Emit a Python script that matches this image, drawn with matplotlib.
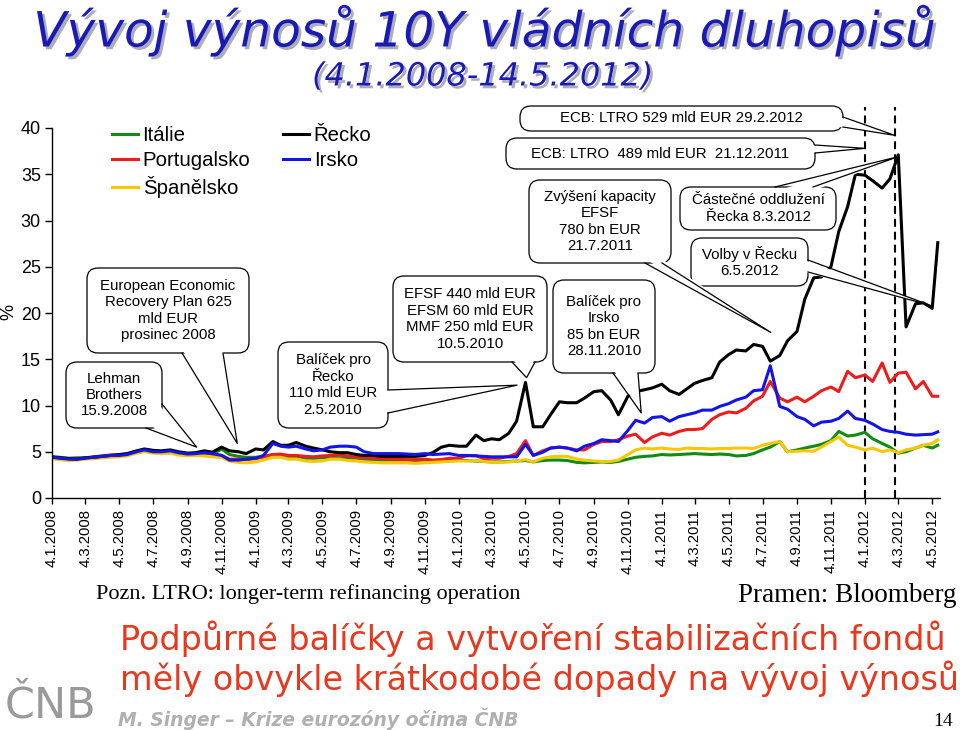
import numpy as np
import pandas as pd
import matplotlib
matplotlib.use('Agg')
import matplotlib.pyplot as plt
import matplotlib.dates as mdates
import matplotlib.patheffects as pe
from matplotlib.patches import FancyBboxPatch, Polygon
from matplotlib.lines import Line2D
from matplotlib.transforms import Affine2D

plt.rcParams['font.family'] = ['Liberation Sans', 'DejaVu Sans']

W, H = 960, 730

# observation dates: 4th and 18th of each month, last value 14.5.2012
dates = [pd.Timestamp(y, m, d) for y in range(2008, 2013) for m in range(1, 13) for d in (4, 18)]
dates = [d for d in dates if d <= pd.Timestamp(2012, 4, 18)] + [pd.Timestamp(2012, 5, 4), pd.Timestamp(2012, 5, 14)]

# 10Y government bond yields, %
italie = [4.5, 4.4, 4.3, 4.35, 4.35, 4.45, 4.55, 4.6, 4.6, 4.7,
          5.0, 5.2, 5.0, 4.95, 5.05, 4.85, 4.75, 4.8, 4.8, 4.7,
          5.3, 4.7, 4.5, 4.4, 4.4, 4.5, 4.7, 4.6, 4.5, 4.5,
          4.3, 4.3, 4.35, 4.4, 4.35, 4.3, 4.3, 4.2, 4.15, 4.1,
          4.1, 4.1, 4.1, 4.05, 4.1, 4.05, 4.1, 4.1, 4.1, 4.05,
          4.0, 3.95, 3.9, 3.9, 3.95, 4.0, 4.05, 3.9, 4.05, 4.1,
          4.1, 4.05, 3.85, 3.8, 3.85, 3.9, 3.85, 3.95, 4.2, 4.4,
          4.5, 4.55, 4.7, 4.65, 4.7, 4.75, 4.8, 4.75, 4.7, 4.75,
          4.7, 4.55, 4.6, 4.8, 5.2, 5.5, 6.1, 5.0, 5.2, 5.4,
          5.6, 5.8, 6.2, 7.2, 6.7, 6.8, 7.1, 6.4, 5.9, 5.5,
          4.85, 5.0, 5.4, 5.7, 5.4, 5.7]
portugalsko = [4.35, 4.3, 4.2, 4.25, 4.3, 4.4, 4.55, 4.65, 4.65, 4.75,
               5.05, 5.2, 5.05, 5.0, 5.1, 4.9, 4.75, 4.8, 4.85, 4.75,
               4.6, 4.2, 4.2, 4.15, 4.25, 4.4, 4.7, 4.75, 4.6, 4.6,
               4.5, 4.45, 4.55, 4.6, 4.65, 4.55, 4.4, 4.35, 4.3, 4.25,
               4.2, 4.2, 4.15, 4.15, 4.2, 4.1, 4.15, 4.3, 4.3, 4.55,
               4.6, 4.25, 4.3, 4.3, 4.5, 4.8, 6.2, 4.6, 5.1, 5.4,
               5.5, 5.4, 5.2, 5.2, 5.8, 6.1, 6.1, 6.3, 6.7, 6.9,
               6.0, 6.6, 7.0, 6.8, 7.2, 7.4, 7.4, 7.5, 8.5, 9.0,
               9.3, 9.2, 9.7, 10.5, 11.0, 12.6, 10.8, 10.4, 10.9, 10.4,
               11.0, 11.6, 12.0, 11.5, 13.7, 13.0, 13.3, 12.6, 14.6, 12.5,
               13.5, 13.6, 11.8, 12.6, 11.0, 11.0]
spanelsko = [4.25, 4.15, 4.05, 4.1, 4.2, 4.25, 4.35, 4.4, 4.45, 4.55,
             4.85, 5.0, 4.85, 4.8, 4.85, 4.65, 4.55, 4.6, 4.55, 4.45,
             4.4, 4.0, 3.85, 3.8, 3.9, 4.1, 4.4, 4.4, 4.2, 4.2,
             4.0, 3.95, 4.0, 4.2, 4.2, 4.05, 4.0, 3.9, 3.85, 3.8,
             3.8, 3.8, 3.8, 3.75, 3.8, 3.85, 3.9, 3.95, 4.0, 4.0,
             4.05, 3.95, 3.85, 3.85, 3.9, 4.0, 4.15, 3.9, 4.3, 4.45,
             4.5, 4.5, 4.2, 4.1, 4.0, 3.95, 3.95, 4.1, 4.7, 5.2,
             5.4, 5.3, 5.4, 5.3, 5.25, 5.4, 5.35, 5.35, 5.3, 5.35,
             5.35, 5.4, 5.4, 5.35, 5.7, 5.9, 6.1, 5.0, 5.05, 5.1,
             5.05, 5.5, 6.1, 6.6, 5.7, 5.5, 5.2, 5.4, 5.0, 5.2,
             4.9, 5.2, 5.4, 5.7, 5.9, 6.3]
recko = [4.4, 4.35, 4.25, 4.2, 4.35, 4.4, 4.5, 4.6, 4.7, 4.8,
         5.1, 5.3, 5.15, 5.1, 5.2, 5.0, 4.85, 4.9, 5.1, 4.95,
         5.5, 5.1, 5.0, 4.8, 5.3, 5.2, 6.1, 5.7, 5.7, 6.0,
         5.6, 5.4, 5.2, 5.0, 4.9, 4.9, 4.7, 4.6, 4.6, 4.5,
         4.5, 4.5, 4.5, 4.5, 4.6, 4.9, 5.5, 5.7, 5.6, 5.6,
         6.8, 6.2, 6.4, 6.3, 7.0, 8.3, 12.5, 7.7, 7.7, 9.0,
         10.4, 10.3, 10.3, 10.8, 11.5, 11.6, 10.6, 9.0, 11.0, 11.5,
         11.7, 11.9, 12.3, 11.6, 11.2, 11.8, 12.4, 12.7, 13.0, 14.7,
         15.5, 16.0, 15.9, 16.6, 16.4, 14.8, 15.4, 17.0, 18.0, 21.5,
         23.8, 23.9, 25.0, 28.8, 31.5, 35.0, 34.9, 34.3, 33.5, 34.5,
         37.1, 18.5, 21.0, 21.1, 20.5, 27.6]
irsko = [4.4, 4.3, 4.2, 4.2, 4.3, 4.4, 4.5, 4.6, 4.6, 4.7,
         5.0, 5.2, 5.0, 5.0, 5.1, 4.9, 4.75, 4.8, 4.9, 4.8,
         4.6, 4.1, 4.1, 4.2, 4.3, 4.6, 5.9, 5.6, 5.5, 5.6,
         5.3, 5.1, 5.2, 5.5, 5.6, 5.6, 5.5, 5.0, 4.8, 4.8,
         4.8, 4.8, 4.75, 4.7, 4.8, 4.7, 4.75, 4.8, 4.6, 4.6,
         4.55, 4.5, 4.45, 4.45, 4.45, 4.45, 5.8, 4.6, 4.95, 5.4,
         5.5, 5.4, 5.1, 5.6, 5.9, 6.3, 6.2, 6.1, 7.3, 8.4,
         8.1, 8.7, 8.8, 8.3, 8.8, 9.0, 9.2, 9.5, 9.5, 9.9,
         10.2, 10.6, 10.9, 11.6, 11.7, 14.3, 9.9, 9.6, 8.8, 8.5,
         7.8, 8.2, 8.3, 8.6, 9.4, 8.6, 8.4, 8.0, 7.4, 7.2,
         7.1, 6.9, 6.8, 6.85, 6.9, 7.15]

series = [('Itálie', italie, '#138a13'),
          ('Portugalsko', portugalsko, '#ee1c1c'),
          ('Španělsko', spanelsko, '#f5c800'),
          ('Řecko', recko, '#000000'),
          ('Irsko', irsko, '#1414e6')]

tick_labels = ['4.1.2008', '4.3.2008', '4.5.2008', '4.7.2008', '4.9.2008', '4.11.2008',
               '4.1.2009', '4.3.2009', '4.5.2009', '4.7.2009', '4.9.2009', '4.11.2009',
               '4.1.2010', '4.3.2010', '4.5.2010', '4.7.2010', '4.9.2010', '4.11.2010',
               '4.1.2011', '4.3.2011', '4.5.2011', '4.7.2011', '4.9.2011', '4.11.2011',
               '4.1.2012', '4.3.2012', '4.5.2012']
ltro_dates = ['2012-01-04', '2012-02-27']

# callouts: text, box (px), tail base (px), tail tip (date, value)
callouts = [
    ('Lehman\nBrothers\n15.9.2008', (66, 362, 162, 428), [(162, 404), (146, 428)], ('2008-09-20', 5.5)),
    ('European Economic\nRecovery Plan 625\nmld EUR\nprosinec 2008', (87, 268, 249, 353),
     [(182, 353), (223, 353)], ('2008-12-02', 5.9)),
    ('Balíček pro\nŘecko\n110 mld EUR\n2.5.2010', (278, 342, 388, 428), [(388, 390), (388, 413)], ('2010-04-19', 12.2)),
    ('EFSF 440 mld EUR\nEFSM 60 mld EUR\nMMF 250 mld EUR\n10.5.2010', (393, 276, 547, 362),
     [(512, 362), (535, 362)], ('2010-05-06', 13.0)),
    ('Balíček pro\nIrsko\n85 bn EUR\n28.11.2010', (553, 280, 655, 373), [(613, 373), (638, 373)], ('2010-11-28', 9.2)),
    ('Zvýšení kapacity\nEFSF\n780 bn EUR\n21.7.2011', (529, 180, 671, 263), [(645, 263), (662, 263)], ('2011-07-19', 17.9)),
    ('Částečné oddlužení\nŘecka 8.3.2012', (680, 187, 836, 230), [(775, 187), (813, 187)], ('2012-03-04', 36.9)),
    ('Volby v Řecku\n6.5.2012', (691, 238, 808, 286), [(808, 260), (808, 272)], ('2012-05-02', 20.8)),
    ('ECB: LTRO 529 mld EUR 29.2.2012', (520, 106, 843, 131), [(843, 117), (843, 127)], ('2012-02-27', 39.2)),
    ('ECB: LTRO  489 mld EUR  21.12.2011', (506, 138, 815, 169), [(815, 145), (815, 153)], ('2012-01-04', 37.8)),
]

fig = plt.figure(figsize=(W / 100, H / 100), dpi=100)
fig.patch.set_facecolor('white')
# pixel coordinates, origin top-left
tpx = Affine2D().scale(1 / W, -1 / H).translate(0, 1) + fig.transFigure

ax = fig.add_axes([52 / W, 1 - 498 / H, (940 - 52) / W, (498 - 128) / H])
handles = []
for name, vals, col in series:
    ln, = ax.plot(dates, vals, color=col, lw=2.2, label=name, solid_joinstyle='round')
    handles.append(ln)

ax.set_xlim(pd.Timestamp('2008-01-04'), pd.Timestamp('2012-05-18'))
ax.set_ylim(0, 40)
ax.set_yticks(range(0, 41, 5))
ax.set_xticks(pd.to_datetime(tick_labels, format='%d.%m.%Y'))
ax.set_xticklabels(tick_labels, rotation=90, fontsize=10.7)
ax.tick_params(axis='y', labelsize=13, length=5, width=1, pad=3)
ax.tick_params(axis='x', length=4, width=1, pad=4)
for s in ['top', 'right']:
    ax.spines[s].set_visible(False)
for s in ['left', 'bottom']:
    ax.spines[s].set_linewidth(1)

for d in ltro_dates:
    ax.axvline(pd.Timestamp(d), ymin=0, ymax=(498 - 107) / 370, color='black', lw=1.5,
               ls=(0, (3.8, 2.4)), clip_on=False, zorder=1)

ax.legend(handles, [s[0] for s in series], ncol=2, loc='upper left', bbox_to_anchor=(112, 126),
          bbox_transform=tpx, frameon=False, fontsize=14.7, handlelength=1.25, handletextpad=0.25,
          labelspacing=0.3, columnspacing=1.6, borderpad=0, borderaxespad=0)

fig.text(9, 312, '%', transform=tpx, rotation=90, fontsize=13, ha='center', va='center')


def to_px(date, val):
    disp = ax.transData.transform((mdates.date2num(pd.Timestamp(date)), val))
    return tpx.inverted().transform(disp)


def bubble(text, box, base, tip):
    x0, y0, x1, y1 = box
    fig.add_artist(FancyBboxPatch((x0, y0), x1 - x0, y1 - y0, boxstyle='round,pad=0,rounding_size=11',
                                  transform=tpx, fc='white', ec='black', lw=0.9, zorder=5))
    tx, ty = to_px(*tip)
    inner = []
    for bx, by in base:
        if abs(bx - x1) < 1:
            inner.append((bx - 4, by))
        elif abs(bx - x0) < 1:
            inner.append((bx + 4, by))
        elif abs(by - y1) < 1:
            inner.append((bx, by - 4))
        else:
            inner.append((bx, by + 4))
    fig.add_artist(Polygon([inner[0], (tx, ty), inner[1]], closed=True, transform=tpx,
                           fc='white', ec='none', zorder=6))
    fig.add_artist(Line2D([base[0][0], tx, base[1][0]], [base[0][1], ty, base[1][1]],
                          transform=tpx, color='black', lw=0.9, zorder=6))
    fig.text((x0 + x1) / 2, (y0 + y1) / 2, text, transform=tpx, ha='center', va='center',
             fontsize=10.8, linespacing=1.22, zorder=7)


for c in callouts:
    bubble(*c)

# titles and notes
shadow = [pe.withSimplePatchShadow(offset=(2, -2), shadow_rgbFace='#8a8a9a', alpha=0.7)]
fig.text(485, 30, 'Vývoj výnosů 10Y vládních dluhopisů', transform=tpx, ha='center', va='center',
         fontsize=35, style='italic', color='#1a1ab4', family='DejaVu Sans', path_effects=shadow)
fig.text(483, 77, '(4.1.2008-14.5.2012)', transform=tpx, ha='center', va='center',
         fontsize=23, style='italic', color='#1a1ab4', family='DejaVu Sans', path_effects=shadow)

fig.text(96, 599, 'Pozn. LTRO: longer-term refinancing operation', transform=tpx, ha='left',
         va='baseline', fontsize=16, family='Liberation Serif')
fig.text(957, 602, 'Pramen: Bloomberg', transform=tpx, ha='right', va='baseline',
         fontsize=19.5, family='Liberation Serif')

fig.text(120, 650, 'Podpůrné balíčky a vytvoření stabilizačních fondů', transform=tpx, ha='left',
         va='baseline', fontsize=24, color='#e8381e', family='DejaVu Sans')
fig.text(120, 690, 'měly obvykle krátkodobé dopady na vývoj výnosů', transform=tpx, ha='left',
         va='baseline', fontsize=24, color='#e8381e', family='DejaVu Sans')

fig.text(5, 727, 'ČNB', transform=tpx, ha='left', va='bottom', fontsize=31, color='#9a9a9a',
         family='DejaVu Sans')
fig.text(118, 726, 'M. Singer – Krize eurozóny očima ČNB', transform=tpx, ha='left', va='baseline',
         fontsize=13.5, style='italic', weight='bold', color='#b0b0b0', family='DejaVu Sans')
fig.text(953, 726, '14', transform=tpx, ha='right', va='baseline', fontsize=14, family='Liberation Serif')

fig.savefig('out.png', dpi=100)
